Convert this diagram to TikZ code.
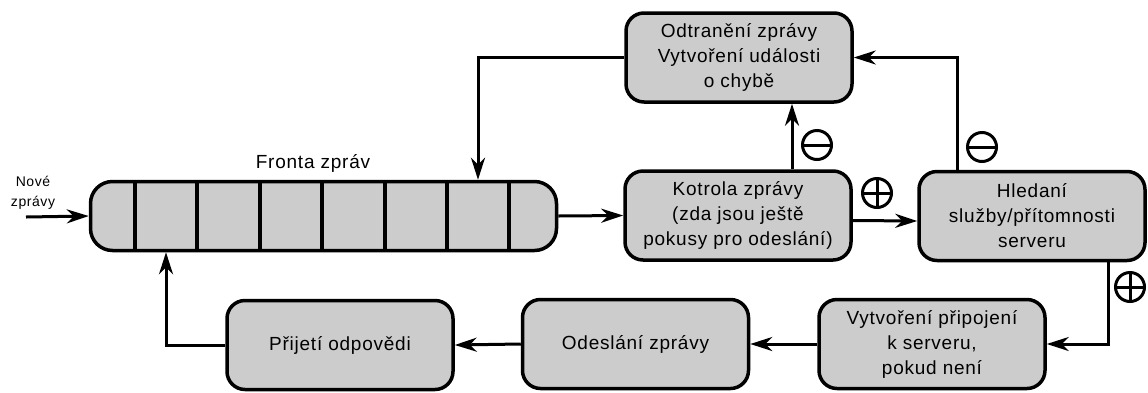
\documentclass[tikz,border=0pt]{standalone}
\usepackage{fontspec}
\setmainfont{Liberation Sans}[LetterSpace=4]
\usetikzlibrary{arrows.meta}
\definecolor{boxgray}{RGB}{204,204,204}
\tikzset{box/.style={draw, line width=3.5pt, fill=boxgray, rounded corners=18pt, minimum width=226pt, minimum height=89pt, align=center, font=\fontsize{19}{25}\selectfont}}
\tikzset{flow/.style={line width=3pt, -{Stealth[length=22pt, width=14pt, inset=7pt]}}}
\tikzset{sign/.style={draw, circle, line width=3pt, minimum size=29pt, inner sep=0pt}}
\tikzset{plussign/.style={sign, path picture={\draw[line width=3pt] (path picture bounding box.west) -- (path picture bounding box.east) (path picture bounding box.north) -- (path picture bounding box.south);}}}
\tikzset{minussign/.style={sign, path picture={\draw[line width=3pt] (path picture bounding box.west) -- (path picture bounding box.east);}}}

\begin{document}
\begin{tikzpicture}[x=1pt, y=-1pt]
    \useasboundingbox (0,0) rectangle (1148,392);
    % fronta
    \node[draw, line width=3.5pt, fill=boxgray, rounded corners=22pt, minimum width=466pt, minimum height=69pt] (fronta) at (323.5,216) {};
    \foreach \x in {135,197,260,322,385,447,509}
        \draw[line width=3.5pt] (\x,181) -- (\x,251);
    \node[font=\fontsize{19}{20}\selectfont] (nazev) at (313,163) {Fronta zpráv};
    \node[align=center, font=\fontsize{14}{20}\selectfont] (nove) at (33,193) {Nové\\zprávy};
    \coordinate (vstup) at (26,217);
    \coordinate (fzpet) at ([xshift=154.5pt]fronta.north);
    \coordinate (fodpoved) at ([xshift=-157.5pt]fronta.south);
    % bloky
    \node[box] (odtraneni) at (739,57.5) {Odtranění zprávy\\Vytvoření události\\o chybě};
    \node[box] (kotrola) at (738,215.5) {Kotrola zprávy\\(zda jsou ještě\\pokusy pro odeslání)};
    \node[box] (hledani) at (1032,216) {Hledaní\\služby/přítomnosti\\serveru};
    \node[box] (pripojeni) at (932,344) {Vytvoření připojení\\k serveru,\\pokud není};
    \node[box] (odeslani) at (635.5,344) {Odeslání zprávy};
    \node[box] (prijeti) at (340,345) {Přijetí odpovědi};
    % znamenka
    \node[plussign] (plusa) at (877,193) {};
    \node[plussign] (plusb) at (1130,287) {};
    \node[minussign] (minusa) at (817,145) {};
    \node[minussign] (minusb) at (982,147) {};
    % spojeni
    \draw[flow] (vstup) -- (fronta.west);
    \draw[flow] (fronta.east) -- (kotrola.west);
    \draw[flow] ([yshift=-5pt]kotrola.east) -- ([yshift=-5pt]hledani.west);
    \draw[flow] ([xshift=54pt]kotrola.north) -- ([xshift=53pt]odtraneni.south);
    \draw[flow] ([xshift=-75pt]hledani.north) |- (odtraneni.east);
    \draw[flow] (odtraneni.west) -| (fzpet);
    \draw[flow] ([xshift=76pt]hledani.south) |- (pripojeni.east);
    \draw[flow] (pripojeni.west) -- (odeslani.east);
    \draw[flow] (odeslani.west) -- (prijeti.east);
    \draw[flow] (prijeti.west) -| (fodpoved);
\end{tikzpicture}
\end{document}
